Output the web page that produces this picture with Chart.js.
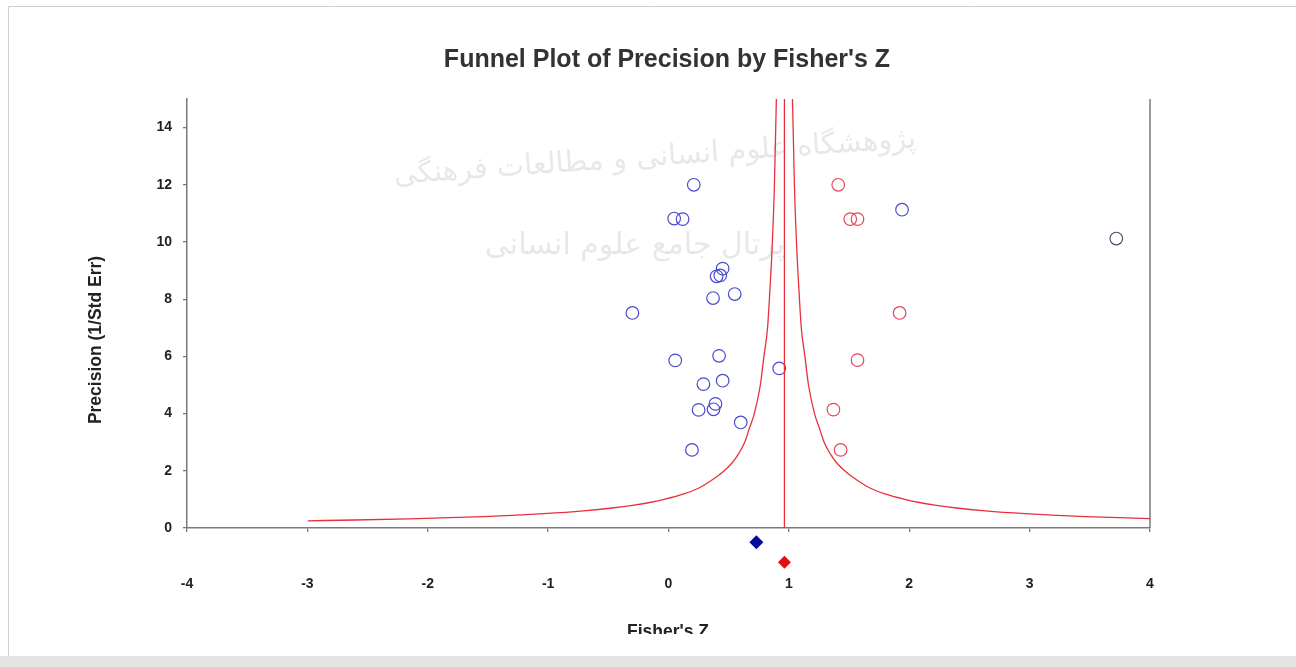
<!DOCTYPE html>
<html>
<head>
<meta charset="utf-8">
<script src="https://cdn.jsdelivr.net/npm/chart.js@4/dist/chart.umd.min.js"></script>
<style>
  html, body { margin: 0; padding: 0; background: #fff; }
  canvas { display: block; }
</style>
</head>
<body>
<canvas id="funnel" width="1296" height="667"></canvas>
<script>
// observed studies (blue circles)
const observedZ = [0.21, 0.047, 0.117, 0.45, 0.40, 0.43, 0.55, 0.37, -0.30, 0.056, 0.42, 0.92, 0.29, 0.45, 0.39, 0.374, 0.25, 0.60, 0.195, 1.94]
const observedPrecision = [12.0, 10.82, 10.8, 9.07, 8.80, 8.83, 8.18, 8.04, 7.52, 5.86, 6.02, 5.58, 5.03, 5.15, 4.34, 4.15, 4.13, 3.69, 2.73, 11.13]

// the far right study (dark circle)
const outlierZ = [3.72]
const outlierPrecision = [10.12]

// imputed studies (red circles)
const imputedZ = [1.41, 1.51, 1.57, 1.92, 1.57, 1.37, 1.43]
const imputedPrecision = [12.0, 10.8, 10.8, 7.52, 5.87, 4.14, 2.73]

// funnel limits
const funnelCenter = 0.963
const funnelPrecision = [0.252, 0.28, 0.32, 0.36, 0.4, 0.45, 0.5, 0.6, 0.7, 0.8, 0.9, 1, 1.2, 1.4, 1.6, 1.8, 2, 2.3, 2.6, 3, 3.5, 4, 5, 6, 7, 8, 10, 12, 15]
const funnelHalfWidth = [3.96, 3.57, 3.12, 2.78, 2.5, 2.22, 2.0, 1.67, 1.43, 1.25, 1.11, 1.0, 0.83, 0.71, 0.63, 0.56, 0.5, 0.43, 0.38, 0.33, 0.29, 0.25, 0.2, 0.17, 0.14, 0.125, 0.1, 0.083, 0.067]

// summary diamonds under the axis (observed, adjusted)
const summaryZ = [0.73, 0.963]
const summaryRows = [-0.5, -1.2]
const summaryColors = ['#0a0a9a', '#e01010']

const xTicks = [-4, -3, -2, -1, 0, 1, 2, 3, 4]
const yTicks = [0, 2, 4, 6, 8, 10, 12, 14]

const canvas = document.querySelector('#funnel')
const ctx = canvas.getContext('2d')

const toPoints = (xs, ys) => xs.map((x, i) => ({ x: x, y: ys[i] }))

const leftFunnel = funnelPrecision.map((p, i) => ({ x: funnelCenter - funnelHalfWidth[i], y: p }))
const rightFunnel = funnelPrecision.map((p, i) => ({ x: funnelCenter + funnelHalfWidth[i], y: p })).reverse()

const lineSet = (data) => ({
  data: data,
  showLine: true,
  borderColor: '#e8303c',
  borderWidth: 1.3,
  pointRadius: 0,
  cubicInterpolationMode: 'monotone',
  fill: false
})

const circleSet = (data, color) => ({
  data: data,
  showLine: false,
  pointStyle: 'circle',
  pointRadius: 6.3,
  borderWidth: 1.2,
  borderColor: color,
  backgroundColor: 'rgba(0,0,0,0)'
})

const tickFont = { family: '"Liberation Sans", Arial, sans-serif', size: 14, weight: 'bold' }

// background frame, watermark, titles, right border and the summary diamonds
const decorations = {
  id: 'decorations',
  beforeDraw(chart) {
    const c = chart.ctx
    c.save()
    c.fillStyle = '#fff'
    c.fillRect(0, 0, chart.width, chart.height)
    c.strokeStyle = '#cfcfcf'
    c.lineWidth = 1
    c.beginPath()
    c.moveTo(8.5, 667)
    c.lineTo(8.5, 6.5)
    c.lineTo(1296, 6.5)
    c.stroke()
    c.fillStyle = '#e4e4e4'
    c.fillRect(0, 656, chart.width, 11)

    c.fillStyle = 'rgba(120,120,120,0.17)'
    c.font = '29px "DejaVu Sans", sans-serif'
    c.textAlign = 'center'
    c.textBaseline = 'middle'
    c.translate(655, 158)
    c.rotate(-0.07)
    c.fillText('پژوهشگاه علوم انسانی و مطالعات فرهنگی', 0, 0)
    c.rotate(0.07)
    c.font = '30px "DejaVu Sans", sans-serif'
    c.fillText('پرتال جامع علوم انسانی', -20, 88)
    c.restore()
  },
  afterDraw(chart) {
    const c = chart.ctx
    const a = chart.chartArea
    const xs = chart.scales.x
    const ys = chart.scales.y
    c.save()
    c.strokeStyle = '#7a7a7a'
    c.lineWidth = 1.5
    c.beginPath()
    c.moveTo(a.right, a.top)
    c.lineTo(a.right, a.bottom)
    c.stroke()

    summaryZ.forEach((z, i) => {
      const px = xs.getPixelForValue(z)
      const py = ys.getPixelForValue(summaryRows[i])
      const r = i === 0 ? 7 : 6.5
      c.fillStyle = summaryColors[i]
      c.beginPath()
      c.moveTo(px, py - r)
      c.lineTo(px + r, py)
      c.lineTo(px, py + r)
      c.lineTo(px - r, py)
      c.closePath()
      c.fill()
    })

    c.fillStyle = '#333'
    c.textAlign = 'center'
    c.textBaseline = 'alphabetic'
    c.font = 'bold 25px "Liberation Sans", Arial, sans-serif'
    c.fillText("Funnel Plot of Precision by Fisher's Z", 667, 67)

    c.font = 'bold 17.5px "Liberation Sans", Arial, sans-serif'
    c.save()
    c.translate(101, 340)
    c.rotate(-Math.PI / 2)
    c.fillStyle = '#222'
    c.fillText('Precision (1/Std Err)', 0, 0)
    c.restore()

    c.beginPath()
    c.rect(0, 600, chart.width, 34)
    c.clip()
    c.fillStyle = '#222'
    c.fillText("Fisher's Z", 668, 637)
    c.restore()
  }
}

new Chart(ctx, {
  type: 'scatter',
  data: {
    datasets: [
      lineSet(leftFunnel),
      lineSet(rightFunnel),
      lineSet([{ x: funnelCenter, y: 0 }, { x: funnelCenter, y: 15 }]),
      circleSet(toPoints(observedZ, observedPrecision), '#4a4ad0'),
      circleSet(toPoints(outlierZ, outlierPrecision), '#4a4a70'),
      circleSet(toPoints(imputedZ, imputedPrecision), '#e2465a')
    ]
  },
  options: {
    responsive: false,
    animation: false,
    events: [],
    layout: { padding: { top: 99, right: 146, left: 0, bottom: 0 } },
    plugins: {
      legend: { display: false },
      tooltip: { enabled: false },
      title: { display: false }
    },
    scales: {
      x: {
        type: 'linear',
        min: -4,
        max: 4,
        afterBuildTicks: s => { s.ticks = xTicks.map(v => ({ value: v })) },
        afterFit: s => { s.height = 139 },
        ticks: { font: tickFont, color: '#222', padding: 44, maxRotation: 0 },
        grid: { drawOnChartArea: false, drawTicks: true, tickLength: 4, color: '#777', lineWidth: 1.3 },
        border: { color: '#7a7a7a', width: 1.5 }
      },
      y: {
        type: 'linear',
        min: 0,
        max: 15,
        afterBuildTicks: s => { s.ticks = yTicks.map(v => ({ value: v })) },
        afterFit: s => { s.width = 187 },
        ticks: { font: tickFont, color: '#222', padding: 11 },
        grid: { drawOnChartArea: false, drawTicks: true, tickLength: 4, color: '#777', lineWidth: 1.3 },
        border: { color: '#7a7a7a', width: 1.5 }
      }
    }
  },
  plugins: [decorations]
})
</script>
</body>
</html>
